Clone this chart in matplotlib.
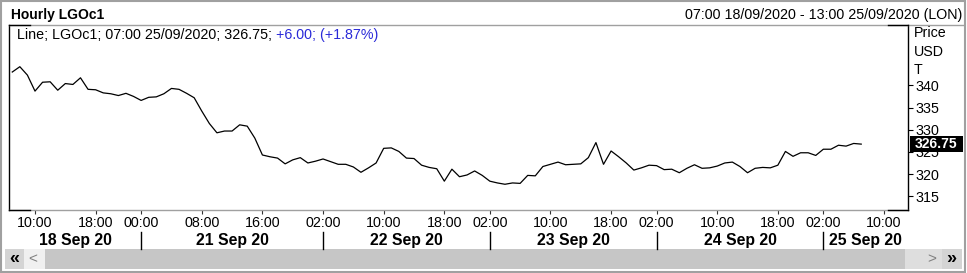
import numpy as np
import matplotlib
matplotlib.use("Agg")
import matplotlib.pyplot as plt
from matplotlib.patches import Rectangle
from matplotlib.lines import Line2D
from matplotlib.transforms import blended_transform_factory

plt.rcParams['font.family'] = ['Liberation Sans', 'DejaVu Sans']

# trading sessions shown on the axis (first hour, last hour) per day
day_labels = ["18 Sep 20", "21 Sep 20", "22 Sep 20", "23 Sep 20", "24 Sep 20", "25 Sep 20"]
day_sessions = [(7, 23), (0, 23), (2, 23), (2, 23), (2, 23), (2, 13)]

# hour labels on the axis as (day, hour)
hour_ticks = [(0, 10), (0, 18), (1, 0), (1, 8), (1, 16), (2, 2), (2, 10), (2, 18),
              (3, 2), (3, 10), (3, 18), (4, 2), (4, 10), (4, 18), (5, 2), (5, 10)]

# hourly LGOc1 price, 18/09 07:00 .. 25/09 07:00
prices = [343.0, 344.2, 342.3, 338.7, 340.7, 340.8, 338.9, 340.4, 340.2, 341.7,
          339.1, 339.0, 338.3, 338.1, 337.7, 338.2, 337.5,
          336.6, 337.3, 337.4, 338.1, 339.3, 339.1, 338.2, 337.2, 334.2, 331.4,
          329.3, 329.7, 329.7, 331.1, 330.8, 328.1, 324.3, 323.9, 323.6, 322.3,
          323.2, 323.7, 322.5, 322.9,
          323.4, 322.8, 322.2, 322.2, 321.6, 320.4, 321.4, 322.5, 325.8, 325.9,
          325.1, 323.6, 323.5, 322.0, 321.5, 321.2, 318.4, 321.1, 319.4, 319.8,
          320.7, 319.7,
          318.4, 318.0, 317.7, 318.0, 317.9, 319.7, 319.6, 321.7, 322.2, 322.7,
          322.1, 322.2, 322.3, 323.7, 327.1, 322.2, 325.2, 323.9, 322.5, 320.9,
          321.4, 322.0,
          321.9, 321.0, 321.1, 320.3, 321.3, 322.1, 321.3, 321.4, 321.8, 322.5,
          322.7, 321.7, 320.3, 321.3, 321.5, 321.4, 322.0, 325.1, 324.0, 324.8,
          324.8, 324.2,
          325.6, 325.6, 326.5, 326.3, 326.9, 326.75]

y_ticks = [315, 320, 325, 330, 335, 340]
change = "+6.00; (+1.87%)"

slots = []
for d, (h0, h1) in enumerate(day_sessions):
    for h in range(h0, h1 + 1):
        slots.append((d, h))
slot_index = {s: i for i, s in enumerate(slots)}
day_start = [slot_index[(d, day_sessions[d][0])] for d in range(len(day_sessions))]

W, H = 967, 273
fig = plt.figure(figsize=(W / 100, H / 100), dpi=100)
fig.patch.set_facecolor('white')

L, R, T, B = 9, 908, 25, 210
ax = fig.add_axes([L / W, 1 - B / H, (R - L) / W, (B - T) / H])
x = np.arange(len(prices))
ax.plot(x, prices, color='black', lw=0.9)
xlim = (-0.43, len(slots) - 1 + 0.17)
ax.set_xlim(*xlim)
ax.set_ylim(311.9, 353.6)

for s in ['top', 'bottom']:
    ax.spines[s].set_visible(False)
for s in ['left', 'right']:
    ax.spines[s].set_color('black')
    ax.spines[s].set_linewidth(1.0)

ax.yaxis.tick_right()
ax.set_yticks(y_ticks)
ax.tick_params(axis='y', direction='out', length=3.6, width=0.8, pad=1.5, labelsize=10.3)

ax.set_xticks([slot_index[t] for t in hour_ticks])
ax.set_xticklabels([f"{h:02d}:00" for _, h in hour_ticks])
ax.tick_params(axis='x', direction='out', length=3, width=0.8, pad=1.0, labelsize=10.3,
               color='#333333')

# overlay in pixel coordinates for the window chrome
ov = fig.add_axes([0, 0, 1, 1])
ov.set_xlim(0, W)
ov.set_ylim(H, 0)
ov.axis('off')
ov.set_zorder(5)

ov.add_patch(Rectangle((0.5, 0.5), W - 3, H - 2, fill=False, ec='#a0a0a0', lw=1.5))
ov.plot([L, W - 4], [T, T], color='#a0a0a0', lw=1)
ov.plot([L, R], [B, B], color='#a0a0a0', lw=1)
for xs, yy in [((L, L + 21), T), ((L, L + 21), B), ((R - 20, R), T), ((R - 20, R), B)]:
    ov.plot(xs, [yy, yy], color='black', lw=1)

ov.text(11, 18.5, "Hourly LGOc1", fontsize=10, fontweight='bold', va='baseline')
ov.text(962, 18.5, "07:00 18/09/2020 - 13:00 25/09/2020 (LON)", fontsize=10.3,
        va='baseline', ha='right')
t1 = ov.text(17, 39, "Line; LGOc1; 07:00 25/09/2020; 326.75; ", fontsize=10.3, va='baseline')
ov.annotate(change, xycoords=t1, xy=(1, 0), va='bottom', fontsize=10.3, color='#2a2ad8')

for yy, s in [(37, "Price"), (55.5, "USD"), (73.5, "T")]:
    ov.text(914, yy, s, fontsize=10.3, va='baseline')

# last price box
bt = blended_transform_factory(ov.transData, ax.transData)
hdat = 15.7 * (353.6 - 311.9) / (B - T)
ax.add_patch(Rectangle((910, prices[-1] - hdat / 2), 53, hdat, transform=bt,
                       fc='black', ec='none', clip_on=False, zorder=10))
ax.text(936.5, prices[-1], f"{prices[-1]:.2f}", transform=bt, color='white',
        fontsize=10, fontweight='bold', ha='center', va='center', zorder=11, clip_on=False)

# day row
dt = blended_transform_factory(ax.transData, ov.transData)
bounds = [xlim[0]] + day_start[1:] + [xlim[1]]
for i, lab in enumerate(day_labels):
    c = (bounds[i] + bounds[i + 1]) / 2
    ov.text(c, 245, lab, transform=dt, fontsize=11.3, fontweight='bold',
            ha='center', va='baseline')
for s in day_start[1:]:
    ov.add_line(Line2D([s, s], [231.5, 248.5], transform=dt, color='black', lw=1))

# scrollbar
ov.add_patch(Rectangle((5, 249), 957, 20, fc='#e8e8e8', ec='none'))
ov.add_patch(Rectangle((5, 249), 19, 20, fc='#d4d4d4', ec='none'))
ov.add_patch(Rectangle((24, 249), 21, 20, fc='#f0f0f0', ec='none'))
ov.add_patch(Rectangle((45, 249), 860, 20, fc='#c6c6c6', ec='none'))
ov.add_patch(Rectangle((905, 249), 37, 20, fc='#dedede', ec='none'))
ov.add_patch(Rectangle((942, 249), 20, 20, fc='#d4d4d4', ec='none'))
ov.text(14, 259, "\u00ab", fontsize=13, fontweight='bold', ha='center', va='center')
ov.text(33, 259, "<", fontsize=11, color='#808080', ha='center', va='center')
ov.text(932, 259, ">", fontsize=11, color='#808080', ha='center', va='center')
ov.text(951, 259, "\u00bb", fontsize=13, fontweight='bold', ha='center', va='center')

fig.savefig("out.png", dpi=100)
